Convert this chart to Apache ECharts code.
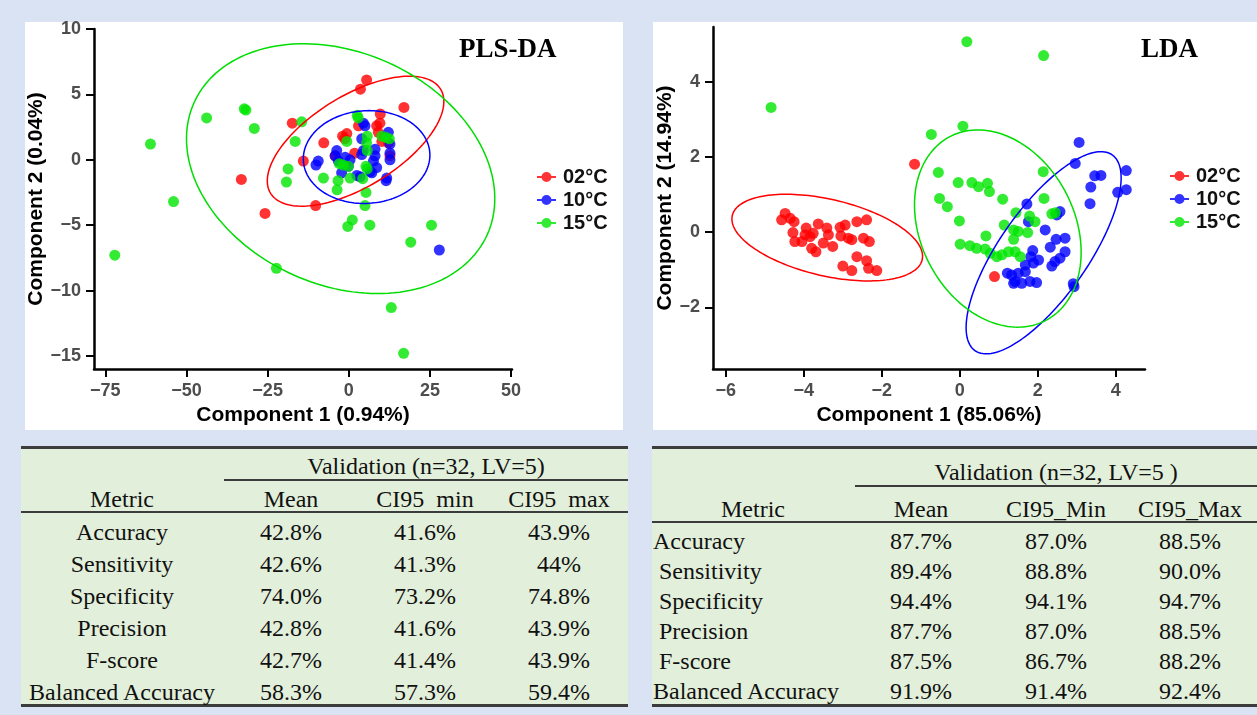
<!DOCTYPE html>
<html><head><meta charset="utf-8">
<script src="https://cdn.jsdelivr.net/npm/echarts@6/dist/echarts.min.js"></script>
<style>
html,body{margin:0;padding:0;}
body{width:1257px;height:715px;background:#dae3f3;position:relative;overflow:hidden;}
.panel{position:absolute;background:#fff;}
.tbl{position:absolute;background:#e2efda;}
.hl{position:absolute;background:#3c3c3c;}
.cell{position:absolute;white-space:pre;font-family:"Liberation Serif","Times New Roman",serif;font-size:24px;color:#111;line-height:26px;}
#chart{position:absolute;left:0;top:0;width:1257px;height:440px;}
</style></head>
<body>
<div class="panel" style="left:25px;top:22px;width:598px;height:408px"></div>
<div class="panel" style="left:653px;top:22px;width:604px;height:408px"></div>
<div class="tbl" style="left:21px;top:446px;width:607px;height:259px"></div>
<div class="tbl" style="left:652px;top:446px;width:605px;height:259px"></div>
<div id="chart"></div>
<script>
// ---------------- DATA ----------------
const groups = ['02°C', '10°C', '15°C'];

const plsRed = [[5.5,6.1],[3.6,5.4],[17.0,4.0],[-17.4,2.8],[-7.7,1.3],[-14.0,-0.1],[-33.1,-1.5],[-25.8,-4.1],[-10.2,-3.5],[-1.9,1.8],[-0.6,2.0],[1.8,0.5],[9.7,3.5],[9.6,2.8],[8.6,2.6],[9.1,2.1],[10.2,1.4],[12.7,0.3],[-4.2,0.3],[3.0,2.6],[12.2,1.3],[-1.2,1.6]];
const plsBlue = [[-9.4,-0.1],[-10.1,-0.4],[-3.7,0.7],[-4.2,0.3],[-3.2,-0.1],[-1.1,0.2],[0.4,0.0],[-0.1,-0.5],[4.5,2.8],[5.0,2.6],[4.0,1.6],[4.5,0.7],[4.0,0.4],[8.1,0.8],[8.1,0.3],[7.6,-0.1],[8.6,-0.6],[7.1,-1.0],[3.5,-1.3],[2.5,-1.2],[12.2,2.1],[12.7,1.2],[12.7,0.5],[12.7,0.0],[11.7,-1.4],[11.5,-1.6],[6.6,-0.9],[-2.2,-1.0],[27.9,-6.9]];
const plsGreen = [[-72.1,-7.3],[-61.1,1.2],[-54.0,-3.2],[-43.8,3.2],[-32.2,3.9],[-31.7,3.8],[-29.1,2.4],[-22.3,-8.3],[-19.2,-1.7],[-18.7,-0.7],[-16.5,1.4],[-14.5,2.9],[-7.8,-1.4],[-3.3,-1.6],[-3.6,-2.3],[-0.3,-5.1],[1.1,-4.6],[5.3,-2.5],[5.0,-3.5],[6.5,-5.0],[19.1,-6.3],[25.5,-5.0],[13.1,-11.3],[16.9,-14.8],[2.9,3.2],[2.6,3.4],[5.7,1.8],[5.5,1.3],[5.7,0.7],[-0.6,1.4],[-2.9,-0.3],[-1.7,-0.4],[-0.1,-0.5],[5.3,-0.5],[5.7,-0.7],[0.4,-1.4],[10.2,1.8],[11.5,1.7],[12.5,1.6],[4.3,-1.45]];

const ldaRed = [[-4.48,0.5],[-4.57,0.33],[-4.35,0.37],[-4.25,0.28],[-4.28,-0.01],[-3.94,0.11],[-4.23,-0.25],[-4.05,-0.25],[-3.97,-0.07],[-3.84,-0.12],[-3.76,-0.03],[-3.8,-0.43],[-3.69,-0.52],[-3.63,0.22],[-3.41,0.11],[-3.37,-0.07],[-3.5,-0.29],[-3.26,-0.38],[-3.07,0.13],[-2.94,0.19],[-3.05,-0.1],[-2.86,-0.16],[-2.77,-0.2],[-2.64,0.28],[-2.39,0.33],[-2.47,-0.16],[-2.32,-0.25],[-2.64,-0.65],[-3.0,-0.9],[-2.77,-1.02],[-2.39,-0.76],[-2.34,-0.96],[-2.13,-1.02],[-1.16,1.81],[0.89,-1.18]];
const ldaBlue = [[3.06,2.39],[2.96,1.83],[3.46,1.5],[3.62,1.51],[3.36,1.2],[3.34,0.76],[4.27,1.64],[4.27,1.13],[4.05,1.06],[1.72,0.75],[1.76,0.28],[2.57,0.55],[2.49,0.46],[2.19,0.06],[2.47,-0.19],[2.7,-0.16],[2.32,-0.4],[2.7,-0.52],[2.57,-0.69],[2.44,-0.78],[2.36,-0.9],[1.87,-0.49],[1.82,-0.65],[2.02,-0.74],[1.89,-0.82],[1.68,-0.87],[1.33,-1.14],[1.42,-1.31],[1.59,-1.36],[1.8,-1.31],[1.97,-1.34],[1.68,-1.05],[1.5,-1.09],[1.38,-1.36],[2.91,-1.37],[1.22,-1.09],[2.93,-1.45]];
const ldaGreen = [[-4.84,3.32],[0.18,5.07],[2.15,4.7],[-0.73,2.6],[0.08,2.82],[-0.55,1.59],[-0.04,1.32],[0.31,1.32],[0.48,1.21],[0.71,1.3],[0.76,1.08],[-0.52,0.9],[-0.32,0.68],[1.1,0.88],[2.14,1.61],[2.16,0.9],[-0.01,0.3],[1.44,0.52],[1.79,0.43],[1.93,0.28],[2.36,0.49],[1.14,0.19],[1.38,0.06],[1.5,0.02],[1.74,-0.01],[0.67,-0.1],[1.38,-0.19],[0.01,-0.32],[0.26,-0.36],[0.43,-0.43],[0.65,-0.45],[0.78,-0.56],[0.95,-0.65],[1.08,-0.6],[1.25,-0.52],[1.42,-0.52],[1.55,-0.65],[2.45,0.52]];

// confidence ellipses: [centerX, centerY, halfWidthX, halfHeightY, correlation]
const plsEllipses = [[2.1,1.42,27.2,4.97,0.61],[5.5,0.21,19.5,3.55,0.04],[-2.5,-0.68,47.5,9.55,-0.24]];
const ldaEllipses = [[-3.40,-0.144,2.445,1.153,-0.43],[2.15,-0.547,1.988,2.69,0.74],[0.975,0.097,2.137,2.624,-0.24]];

const plsXTicks = [-75,-50,-25,0,25,50];
const plsYTicks = [-15,-10,-5,0,5,10];
const ldaXTicks = [-6,-4,-2,0,2,4];
const ldaYTicks = [-2,0,2,4];

const metrics = ['Accuracy','Sensitivity','Specificity','Precision','F-score','Balanced Accuracy'];
const plsMean = ['42.8%','42.6%','74.0%','42.8%','42.7%','58.3%'];
const plsCiMin = ['41.6%','41.3%','73.2%','41.6%','41.4%','57.3%'];
const plsCiMax = ['43.9%','44%','74.8%','43.9%','43.9%','59.4%'];
const ldaMean = ['87.7%','89.4%','94.4%','87.7%','87.5%','91.9%'];
const ldaCiMin = ['87.0%','88.8%','94.1%','87.0%','86.7%','91.4%'];
const ldaCiMax = ['88.5%','90.0%','94.7%','88.5%','88.2%','92.4%'];
const plsHeaders = ['Metric','Mean','CI95  min','CI95  max'];
const ldaHeaders = ['Metric','Mean','CI95_Min','CI95_Max'];
const plsSpan = 'Validation (n=32, LV=5)';
const ldaSpan = 'Validation (n=32, LV=5 )';

// ---------------- STYLE ----------------
const pointColors = ['#ff0000','#0000ff','#00e600'];
const ellColors = ['#ff0000','#0000ff','#00dd00'];
const sans = '"Liberation Sans", Arial, sans-serif';
const serif = '"Liberation Serif", "Times New Roman", serif';
const legendIcon = 'path://M0,4.5 L19,4.5 L19,6.5 L0,6.5 Z M9.5,0.5 A5,5 0 1 1 9.5,10.5 A5,5 0 1 1 9.5,0.5 Z';

function minusFmt(v){ return String(v).replace('-', '\u2212'); }

function axis(idx, min, max, ticks, name, gap){
  return {
    gridIndex: idx, type:'value', min:min, max:max,
    name:name, nameLocation:'middle', nameGap:gap,
    nameTextStyle:{fontFamily:sans, fontWeight:'bold', fontSize:21, color:'#000'},
    axisLine:{show:true, onZero:false, lineStyle:{color:'#000', width:2.5}},
    axisTick:{show:true, inside:false, length:8, customValues:ticks, lineStyle:{color:'#000', width:2}},
    axisLabel:{show:true, margin:13, customValues:ticks, formatter:minusFmt,
      fontFamily:sans, fontWeight:'bold', fontSize:18, color:'#4d4d4d'},
    splitLine:{show:false}
  };
}

function ellipseSeries(params, gi){
  return {
    type:'custom', name:'ellipses'+gi, xAxisIndex:gi, yAxisIndex:gi, z:5, silent:true,
    data: params,
    renderItem: function(pr, api){
      const cx=api.value(0), cy=api.value(1), hx=api.value(2), hy=api.value(3), r=api.value(4);
      const s=Math.sqrt(1-r*r), pts=[];
      for(let k=0;k<=160;k++){
        const t=2*Math.PI*k/160;
        pts.push(api.coord([cx+hx*Math.cos(t), cy+hy*(r*Math.cos(t)+s*Math.sin(t))]));
      }
      return {type:'polyline', shape:{points:pts}, style:{stroke:ellColors[pr.dataIndex], fill:null, lineWidth:1.5}};
    }
  };
}

function scatter(name, data, gi, ci){
  return {type:'scatter', name:name, xAxisIndex:gi, yAxisIndex:gi, data:data, symbolSize:11, z:3,
    itemStyle:{color:pointColors[ci], opacity:0.8}};
}

function legend(left, top){
  return {orient:'vertical', left:left, top:top, padding:0, itemGap:3, itemWidth:19, itemHeight:11,
    icon:legendIcon, data:groups, selectedMode:false,
    textStyle:{fontFamily:sans, fontWeight:'bold', fontSize:20, color:'#111', lineHeight:20, padding:[0,0,0,2]}};
}

const chart = echarts.init(document.getElementById('chart'), null, {renderer:'canvas'});
chart.setOption({
  animation:false,
  backgroundColor:'transparent',
  title:[
    {text:'PLS-DA', left:459, top:37, padding:0, textStyle:{fontFamily:serif, fontWeight:'bold', fontSize:27, color:'#000'}},
    {text:'LDA', left:1141, top:37, padding:0, textStyle:{fontFamily:serif, fontWeight:'bold', fontSize:27, color:'#000'}}
  ],
  legend:[legend(537,167), legend(1170,166)],
  grid:[{left:94, top:29, width:418, height:340}, {left:713, top:27, width:432, height:342}],
  xAxis:[axis(0,-78.5,50.3,plsXTicks,'Component 1 (0.94%)',35), axis(1,-6.33,4.75,ldaXTicks,'Component 1 (85.06%)',35)],
  yAxis:[axis(0,-16,10,plsYTicks,'Component 2 (0.04%)',45,false), axis(1,-3.64,5.46,ldaYTicks,'Component 2 (14.94%)',35)],
  series:[
    scatter(groups[0], plsRed, 0, 0), scatter(groups[1], plsBlue, 0, 1), scatter(groups[2], plsGreen, 0, 2),
    scatter(groups[0], ldaRed, 1, 0), scatter(groups[1], ldaBlue, 1, 1), scatter(groups[2], ldaGreen, 1, 2),
    ellipseSeries(plsEllipses, 0), ellipseSeries(ldaEllipses, 1)
  ]
});

// ---------------- TABLES ----------------
function cell(text, x, y, align){
  const d=document.createElement('div');
  d.className='cell'; d.textContent=text;
  d.style.left=x+'px'; d.style.top=y+'px';
  d.style.transform = align==='left' ? 'translate(0,-50%)' : 'translate(-50%,-50%)';
  document.body.appendChild(d);
}
function hline(x, y, w, h){
  const d=document.createElement('div'); d.className='hl';
  d.style.left=x+'px'; d.style.top=y+'px'; d.style.width=w+'px'; d.style.height=h+'px';
  document.body.appendChild(d);
}
// left table
hline(21,446,607,2.5); hline(224,479,404,1.5); hline(21,511,607,1.5); hline(21,704,607,2.5);
cell(plsSpan, 426, 466);
const lcols=[122,291,425,559];
plsHeaders.forEach((h,i)=>cell(h, lcols[i], 499));
metrics.forEach((m,r)=>{
  const y=532+r*32;
  cell(m, lcols[0], y); cell(plsMean[r], lcols[1], y); cell(plsCiMin[r], lcols[2], y); cell(plsCiMax[r], lcols[3], y);
});
// right table
hline(652,446,605,2.5); hline(855,485,402,1.5); hline(652,521,605,1.5); hline(652,704,605,2.5);
cell(ldaSpan, 1056, 472);
const rcols=[753,921,1056,1190];
ldaHeaders.forEach((h,i)=>cell(h, rcols[i], 509));
const indent=[0,6,6,6,6,0];
metrics.forEach((m,r)=>{
  const y=541+r*30;
  cell(m, 653+indent[r], y, 'left'); cell(ldaMean[r], rcols[1], y); cell(ldaCiMin[r], rcols[2], y); cell(ldaCiMax[r], rcols[3], y);
});
</script>
</body></html>
